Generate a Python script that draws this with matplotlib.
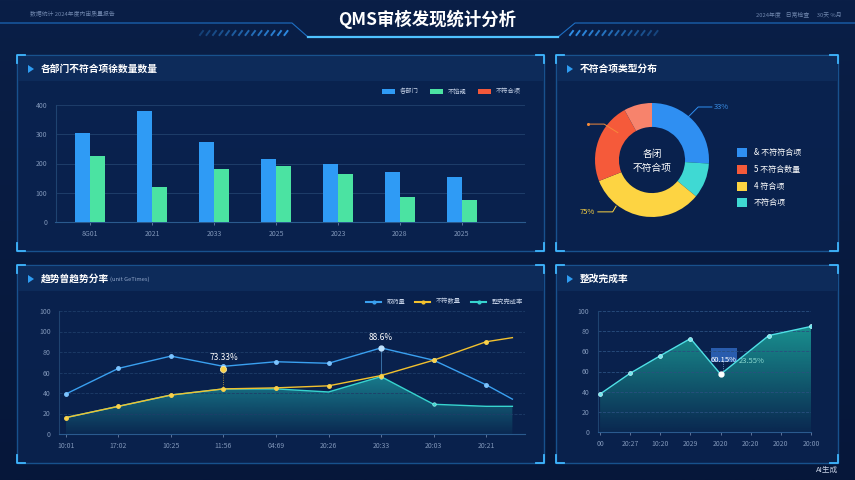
import matplotlib
matplotlib.use('Agg')
import matplotlib.pyplot as plt
import numpy as np
from matplotlib.patches import Rectangle, Polygon
from matplotlib.colors import to_rgb

plt.rcParams['font.family'] = ['Noto Sans CJK SC', 'DejaVu Sans']

W, H = 855, 480

# ---- data ----
main_title = 'QMS审核发现统计分析'

bar_cats = ['8G01', '2021', '2033', '2025', '2023', '2028', '2025']
bar_dept = [305, 378, 273, 214, 198, 170, 153]
bar_nc = [225, 119, 181, 191, 164, 87, 76]
bar_legend = ['各部门', '不馅规', '不符合项']
bar_yticks = [0, 100, 200, 300, 400]
bar_ylabels = ['0', '100', '200', '300', '400']

pie_vals = [26, 10, 33, 23, 8]
pie_colors = ['#2f8ff2', '#3fd9d3', '#fdd442', '#f55a3a', '#f7836c']
pie_legend = ['& 不符符合项', '5 不符合数量', '4 符合项', '不符合项']
pie_legend_colors = ['#2f8ff2', '#f55a3a', '#fdd442', '#3fd9d3']

trend_x = [0, 1, 2, 3, 4, 5, 6, 7, 8, 8.5]
trend_labels = ['10:01', '17:02', '10:25', '11:56', '04:69', '20:26', '20:33', '20:03', '20:21']
trend_check = [39, 64, 76, 66, 70.5, 69, 84, 72, 48, 34]
trend_nc = [16, 27, 38, 44, 45, 47, 57, 72, 90, 94]
trend_rate = [16, 27, 38, 44, 44, 41, 56, 29, 27, 27]
trend_legend = ['取药量', '不符数量', '整究完成率']
trend_yticks = [0, 20, 40, 60, 80, 100, 120]
trend_ylabels = ['0', '20', '40', '60', '80', '100', '100']

rate_x = [0, 1, 2, 3, 4, 5.6, 7]
rate_vals = [37.7, 58.3, 75.7, 92.7, 57.3, 95.7, 104.7]
rate_labels = ['00', '20:27', '10:20', '2029', '2020', '20:20', '2020', '20:00']
rate_yticks = [0, 20, 40, 60, 80, 100, 120]
rate_ylabels = ['0', '20', '40', '60', '60', '80', '100']

TICK_C = '#7f95b8'
GRID_C = '#1e3d69'

fig = plt.figure(figsize=(8.55, 4.8), dpi=100)
fig.patch.set_facecolor('#061634')


def px_axes(x0, y0, x1, y1):
    ax = fig.add_axes([x0 / W, 1 - y1 / H, (x1 - x0) / W, (y1 - y0) / H])
    ax.patch.set_alpha(0)
    return ax


def grad_fill(ax, x, y, color, a_top, a_bot, zorder=1):
    verts = [(x[0], 0)] + list(zip(x, y)) + [(x[-1], 0)]
    poly = Polygon(verts, facecolor='none', edgecolor='none')
    ax.add_patch(poly)
    img = np.zeros((100, 1, 4))
    img[:, :, :3] = to_rgb(color)
    img[:, 0, 3] = np.linspace(a_bot, a_top, 100)
    im = ax.imshow(img, aspect='auto', origin='lower',
                   extent=[min(x), max(x), 0, max(y)], zorder=zorder)
    im.set_clip_path(poly)


def style_axes(ax):
    for s in ['top', 'right']:
        ax.spines[s].set_visible(False)
    ax.spines['left'].set_color('#1f4370')
    ax.spines['bottom'].set_color('#2a5a8e')
    ax.tick_params(colors=TICK_C, labelsize=5, length=2, width=0.5)
    ax.tick_params(axis='y', length=0, pad=6)


# ---- background ----
bg = fig.add_axes([0, 0, 1, 1])
bg.axis('off')
grad = np.linspace(0, 1, 200)[:, None]
bgimg = np.zeros((200, 1, 3))
top_c = np.array(to_rgb('#0a1f47'))
bot_c = np.array(to_rgb('#06173a'))
bgimg[:, 0, :] = top_c * (1 - grad) + bot_c * grad
bg.imshow(bgimg, aspect='auto', extent=[0, W, H, 0], zorder=0)
bg.set_xlim(0, W)
bg.set_ylim(H, 0)

# header lines
bg.plot([0, 292, 308, 558, 575, W], [23, 23, 37, 37, 23, 23], color='#1d6fc4', lw=0.8, zorder=2)
bg.plot([308, 558], [37, 37], color='#4fc3ff', lw=1.6, zorder=3)
for i in range(14):
    xs = 200 + i * 6.5
    bg.plot([xs, xs + 3], [35, 31], color='#2f8fe8', lw=1.4, alpha=0.3 + 0.05 * i, zorder=2)
    xs2 = 570 + i * 6.5
    bg.plot([xs2, xs2 + 3], [35, 31], color='#2f8fe8', lw=1.4, alpha=1.0 - 0.05 * i, zorder=2)
bg.text(427, 19, main_title, color='white', fontsize=12.5, fontweight='bold',
        ha='center', va='center', zorder=4)
bg.text(30, 14, '数据统计 2024年度内审质量报告', color='#6f86ad', fontsize=4.2, va='center')
bg.text(842, 14, '2024年度    日常检查      30天 %月', color='#6f86ad', fontsize=4.2,
        va='center', ha='right')
bg.text(838, 470, 'AI生成', color='#c9d3e6', fontsize=5.5, ha='right', va='center')

panels = [(17, 55, 544, 251, '各部门不符合项徐数量数量'),
          (556, 55, 838, 251, '不符合项类型分布'),
          (17, 265, 544, 463, '趋势曾趋势分率'),
          (556, 265, 838, 463, '整改完成率')]
for x0, y0, x1, y1, title in panels:
    bg.add_patch(Rectangle((x0, y0), x1 - x0, y1 - y0, facecolor='#0a2350',
                           edgecolor='#1b5b9a', lw=1.0, alpha=0.85, zorder=1))
    bg.add_patch(Rectangle((x0 + 1, y0 + 1), x1 - x0 - 2, 25, facecolor='#0f2e5e',
                           edgecolor='none', alpha=0.8, zorder=1))
    L = 8
    for cx, cy, dx, dy in [(x0, y0, 1, 1), (x1, y0, -1, 1), (x0, y1, 1, -1), (x1, y1, -1, -1)]:
        bg.plot([cx + dx * L, cx, cx], [cy, cy, cy + dy * L], color='#3fb6ff', lw=1.3, zorder=2)
    bg.add_patch(Polygon([(x0 + 11, y0 + 10), (x0 + 11, y0 + 18), (x0 + 17, y0 + 14)],
                         facecolor='#2e9cf2', edgecolor='none', zorder=3))
    bg.text(x0 + 24, y0 + 14, title, color='white', fontsize=7, fontweight='bold',
            va='center', zorder=3)
bg.text(110, 279.5, '(unit GeTimes)', color='#8ea3c6', fontsize=4.2, va='center', zorder=3)

# ---- panel 1: bars ----
ax1 = px_axes(55.5, 105, 525, 222)
style_axes(ax1)
xi = np.arange(len(bar_cats))
bw = 0.245
ax1.bar(xi - bw / 2, bar_dept, bw, color='#2f9bf5', zorder=3)
ax1.bar(xi + bw / 2, bar_nc, bw, color='#4be3a2', zorder=3)
ax1.set_xlim(-0.56, 7.02)
ax1.set_ylim(0, 400)
ax1.set_yticks(bar_yticks)
ax1.set_yticklabels(bar_ylabels)
ax1.set_xticks(xi)
ax1.set_xticklabels(bar_cats)
ax1.grid(axis='y', color=GRID_C, lw=0.7, zorder=0)
for x, c, lab in zip([382, 430, 478], ['#2f9bf5', '#4be3a2', '#f2583a'], bar_legend):
    bg.add_patch(Rectangle((x, 89), 13, 5, facecolor=c, zorder=3))
    bg.text(x + 18, 91.5, lab, color='#c7d3e8', fontsize=4.5, va='center', zorder=3)

# ---- panel 2: donut ----
ax2 = px_axes(587, 95, 717, 225)
ax2.axis('off')
ax2.pie(pie_vals, colors=pie_colors, startangle=90, counterclock=False, radius=1.0,
        wedgeprops=dict(width=0.42, edgecolor='none'))
ax2.set_xlim(-65 / 57, 65 / 57)
ax2.set_ylim(-65 / 57, 65 / 57)
ax2.text(0, 0.1, '各闭', color='white', fontsize=7, ha='center', va='center')
ax2.text(0, -0.14, '不符合项', color='white', fontsize=7, ha='center', va='center')
ax2.plot([0.63, 0.81, 1.05], [0.75, 0.93, 0.93], color='#2f8ff2', lw=0.7, clip_on=False)
ax2.text(1.08, 0.93, '33%', color='#3a8ee6', fontsize=5.5, va='center', clip_on=False)
ax2.plot([-0.6, -0.84, -1.12], [0.48, 0.63, 0.63], color='#f58a3a', lw=0.7, clip_on=False)
ax2.plot([-1.12], [0.63], 'o', color='#f58a3a', ms=1.2, clip_on=False)
ax2.plot([-0.63, -0.69, -0.95], [-0.81, -0.91, -0.91], color='#fdd442', lw=0.7, clip_on=False)
ax2.text(-1.0, -0.91, '75%', color='#fdd442', fontsize=5.5, va='center', ha='right', clip_on=False)
for i, (lab, c) in enumerate(zip(pie_legend, pie_legend_colors)):
    yy = 152.7 + i * 16.7
    bg.add_patch(Rectangle((737, yy - 4.5), 9.5, 9, facecolor=c, zorder=3))
    bg.text(754, yy, lab, color='white', fontsize=5.8, va='center', zorder=3)

# ---- panel 3: trend ----
ax3 = px_axes(59, 311, 525, 434)
style_axes(ax3)
grad_fill(ax3, trend_x, trend_rate, '#25c6c0', 0.55, 0.05, zorder=1)
ax3.plot(trend_x, trend_rate, color='#37d4cf', lw=1.0, zorder=3)
ax3.plot(trend_x[6:8], trend_rate[6:8], 'o', color='#37d4cf', ms=2.5, mec='#9ef3ef', mew=0.5, zorder=4)
ax3.plot(trend_x, trend_check, color='#3aa0f0', lw=1.0, zorder=4)
ax3.plot(trend_x[:-1], trend_check[:-1], 'o', color='#7cc4ff', ms=2.5, zorder=5)
ax3.plot(trend_x, trend_nc, color='#f2c12e', lw=1.0, zorder=4)
ax3.plot(trend_x[:-1], trend_nc[:-1], 'o', color='#fbd24a', ms=2.5, zorder=5)
ax3.plot([3, 3], [trend_nc[3], 63], color='#c9a33a', lw=0.6, ls=':', zorder=4)
ax3.plot([3], [63], 'o', color='#fbd24a', ms=4.5, mec='#fff2b8', mew=0.5, zorder=6)
ax3.text(3, 70, '73.33%', color='white', fontsize=6, ha='center', va='bottom', zorder=6)
ax3.plot([6, 6], [trend_nc[6], trend_check[6]], color='#4a8fc8', lw=0.5, zorder=3)
ax3.plot([6], [trend_check[6]], 'o', color='#bfe2ff', ms=3.5, zorder=6)
ax3.text(6, 90, '88.6%', color='white', fontsize=6, ha='center', va='bottom', zorder=6)
ax3.set_xlim(-0.13, 8.74)
ax3.set_ylim(0, 120)
ax3.set_yticks(trend_yticks)
ax3.set_yticklabels(trend_ylabels)
ax3.set_xticks(range(len(trend_labels)))
ax3.set_xticklabels(trend_labels)
ax3.grid(axis='y', color=GRID_C, lw=0.6, ls='--', zorder=0)
for x, c, lab in zip([366, 415, 471], ['#3aa0f0', '#f2c12e', '#37d4cf'], trend_legend):
    bg.plot([x, x + 15], [301.5, 301.5], color=c, lw=1.5, zorder=3)
    bg.plot([x + 7.5], [301.5], 'o', color=c, ms=2, zorder=3)
    bg.text(x + 21, 301.5, lab, color='#c7d3e8', fontsize=4.5, va='center', zorder=3)

# ---- panel 4: rectification rate ----
ax4 = px_axes(597.7, 311, 811, 432)
style_axes(ax4)
grad_fill(ax4, rate_x, rate_vals, '#1fb5a5', 0.75, 0.05, zorder=1)
ax4.plot(rate_x, rate_vals, color='#4fe0e6', lw=1.0, zorder=3)
ax4.plot(rate_x, rate_vals, 'o', color='#6fe6ef', ms=2.8, mec='#c9fbff', mew=0.5, zorder=4)
ax4.plot([4], [rate_vals[4]], 'o', color='white', ms=3.5, zorder=5)
ax4.set_xlim(-0.08, 7.0)
ax4.set_ylim(0, 120)
ax4.set_yticks(rate_yticks)
ax4.set_yticklabels(rate_ylabels)
ax4.set_xticks(range(len(rate_labels)))
ax4.set_xticklabels(rate_labels)
ax4.grid(axis='y', color='#2a4f80', lw=0.6, ls='--', zorder=0)
bg.add_patch(Rectangle((710.7, 347.7), 26, 14, facecolor='#2d63b8', alpha=0.9, zorder=5))
bg.plot([723, 723], [362, 370], color='#9fc8ff', lw=0.5, ls=':', zorder=5)
bg.text(723.5, 360.5, '60.15%', color='white', fontsize=5.5, ha='center', va='center', zorder=6)
bg.text(752, 361, '23.55%', color='white', fontsize=5.5, ha='center', va='center', zorder=6)

fig.savefig('out.png', dpi=100, facecolor=fig.get_facecolor())
